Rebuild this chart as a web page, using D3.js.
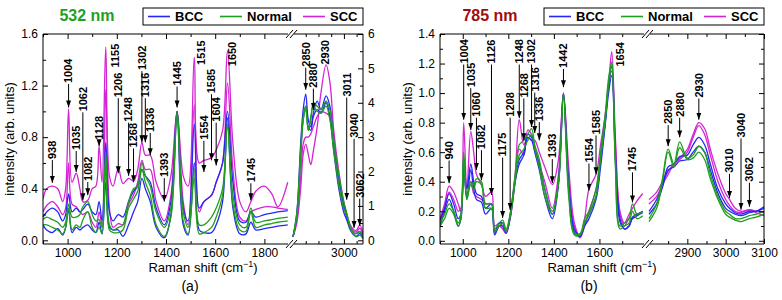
<!DOCTYPE html>
<html>
<head>
<meta charset="utf-8">
<script src="https://cdnjs.cloudflare.com/ajax/libs/d3/7.8.5/d3.min.js"></script>
<style>
  body { margin: 0; background: #fff; }
  text { font-family: "Liberation Sans", Arial, sans-serif; }
</style>
</head>
<body>
<svg width="782" height="300"></svg>
<script>
// ---------- data ----------
var legendNames = ['BCC', 'Normal', 'SCC'];

// panel (a), 532 nm, fingerprint region (left axis)
var waveA = [900, 915, 938, 960, 980, 992, 1004, 1018, 1035, 1050, 1062, 1082, 1100, 1115, 1128, 1140, 1155, 1170, 1185, 1206,
             1225, 1248, 1268, 1285, 1302, 1316, 1336, 1360, 1393, 1420, 1445, 1470, 1490, 1515, 1535, 1554, 1585, 1604, 1630, 1650,
             1672, 1700, 1725, 1745, 1765, 1800, 1830, 1855, 1895];
var sccA1 = [.32, .40, .42, .40, .30, .40, 1.02, .45, .52, .40, .30, .31, .40, .42, .73, .45, 1.50, .50, .42, .56,
             .44, .48, .46, .55, .76, .66, .66, .45, .32, .50, 1.00, .50, .42, 1.42, .60, .62, .64, .70, .85, 1.47,
             .75, .30, .22, .30, .38, .42, .36, .26, .45];
var sccA2 = [.22, .27, .30, .26, .20, .25, .60, .28, .26, .22, .20, .22, .14, .10, .22, .12, 1.17, .25, .10, .13,
             .12, .28, .35, .45, .62, .55, .55, .30, .15, .35, 1.00, .30, .12, 1.05, .22, .30, .35, .45, .60, 1.22,
             .55, .18, .15, .22, .24, .26, .26, .25, .24];
var bccA1 = [.18, .22, .25, .22, .15, .20, .36, .22, .25, .22, .24, .28, .22, .20, .30, .15, .76, .22, .15, .20,
             .18, .30, .38, .42, .55, .50, .45, .25, .12, .30, 1.00, .25, .15, .90, .25, .30, .35, .45, .60, 1.00,
             .45, .15, .14, .22, .18, .20, .21, .22, .23];
var bccA2 = [.12, .08, .06, .09, .04, .10, .24, .06, .10, .08, .10, .12, .08, .06, .14, .05, .45, .10, .08, .08,
             .03, .12, .22, .30, .48, .40, .30, .10, .02, .20, .98, .12, .04, .60, .08, .06, .06, .12, .30, .95,
             .25, .05, .05, .14, .08, .09, .10, .11, .12];
var normA1 = [.16, .18, .16, .14, .10, .14, .28, .18, .18, .20, .26, .30, .20, .15, .16, .10, .68, .12, .08, .10,
              .12, .30, .40, .42, .60, .50, .42, .22, .10, .25, 1.00, .22, .10, .55, .12, .12, .18, .25, .40, .90,
              .35, .12, .10, .25, .14, .15, .16, .17, .18];
var normA2 = [.12, .12, .10, .08, .05, .10, .25, .08, .12, .10, .16, .22, .10, .06, .10, .05, .60, .08, .06, .06,
              .08, .25, .32, .38, .55, .45, .35, .12, .03, .18, .98, .15, .05, .48, .05, .06, .10, .18, .35, .88,
              .28, .08, .07, .22, .10, .12, .13, .14, .15];

// panel (a), high wavenumber region (right axis, 0-6)
var waveAHigh = [2800, 2815, 2830, 2840, 2850, 2860, 2870, 2880, 2895, 2910, 2930, 2945, 2960, 2980, 3000, 3011, 3025, 3040, 3050, 3062, 3075];
var sccAH1  = [0.1, 0.5, 1.5, 2.5, 2.8, 2.5, 2.2, 2.6, 3.3, 4.3, 5.1, 4.6, 3.2, 2.0, 1.1, 0.75, 0.45, 0.3, 0.3, 0.45, 0.2];
var sccAH2  = [0.1, 0.6, 1.8, 2.8, 3.0, 3.0, 3.1, 3.3, 3.6, 3.75, 3.7, 3.6, 2.8, 1.8, 1.0, 0.7, 0.4, 0.25, 0.25, 0.35, 0.15];
var bccAH1  = [0.1, 0.8, 2.8, 3.8, 4.25, 3.5, 3.3, 3.7, 4.05, 3.8, 4.2, 3.9, 2.9, 1.8, 1.0, 0.7, 0.35, 0.2, 0.2, 0.25, 0.1];
var bccAH2  = [0.1, 0.7, 2.5, 3.5, 3.9, 3.3, 3.2, 3.6, 3.8, 3.7, 4.0, 3.6, 2.6, 1.5, 0.8, 0.6, 0.3, 0.15, 0.12, 0.2, 0.05];
var normAH1 = [0.1, 0.8, 2.6, 3.6, 3.9, 3.2, 3.5, 4.0, 3.9, 3.8, 4.05, 3.8, 2.9, 1.9, 1.1, 0.8, 0.4, 0.2, 0.2, 0.25, 0.12];
var normAH2 = [0.1, 0.7, 2.4, 3.5, 3.8, 3.2, 3.6, 3.9, 3.75, 3.7, 3.9, 3.5, 2.6, 1.6, 0.9, 0.75, 0.35, 0.15, 0.1, 0.15, 0.05];

// panel (b), 785 nm, fingerprint region
var waveB = [900, 920, 940, 960, 980, 992, 1004, 1018, 1035, 1048, 1060, 1082, 1100, 1126, 1140, 1160, 1175, 1190, 1208, 1230,
             1248, 1268, 1285, 1302, 1316, 1336, 1360, 1393, 1420, 1442, 1465, 1490, 1515, 1535, 1554, 1585, 1605, 1625, 1640, 1654,
             1670, 1690, 1710, 1730, 1745, 1765, 1790];
var sccB1 = [.15, .25, .37, .33, .25, .20, .80, .35, .74, .60, .45, .38, .30, .33, .10, .12, .10, .06, .15, .45,
             .82, .65, .70, .68, .68, .60, .50, .38, .55, 1.00, .50, .12, .03, .15, .35, .45, .65, .85, 1.05, 1.28,
             .70, .20, .12, .18, .22, .27, .32];
var sccB2 = [.12, .22, .33, .28, .20, .22, .55, .30, .40, .32, .30, .28, .25, .25, .05, .10, .08, .05, .15, .40,
             .62, .58, .75, .72, .62, .52, .40, .22, .45, 1.00, .40, .10, .02, .10, .20, .35, .55, .80, 1.05, 1.15,
             .65, .18, .10, .15, .15, .17, .20];
var bccB1 = [.14, .22, .32, .25, .15, .18, .55, .35, .52, .40, .32, .30, .22, .25, .06, .12, .12, .06, .18, .42,
             .55, .60, .72, .70, .62, .52, .35, .18, .40, 1.00, .40, .08, .04, .12, .18, .30, .55, .80, 1.05, 1.18,
             .60, .15, .08, .10, .16, .18, .20];
var bccB2 = [.10, .20, .28, .20, .10, .15, .50, .28, .48, .35, .28, .26, .18, .22, .04, .10, .10, .05, .16, .40,
             .52, .58, .70, .68, .60, .48, .30, .15, .38, .98, .35, .06, .03, .10, .15, .28, .50, .78, 1.00, 1.12,
             .55, .13, .08, .10, .15, .17, .19];
var normB1 = [.12, .18, .25, .20, .12, .18, .60, .30, .40, .38, .42, .40, .25, .25, .08, .12, .14, .08, .18, .45,
              .65, .68, .72, .76, .65, .55, .35, .20, .40, 1.00, .35, .05, .05, .15, .20, .35, .60, .85, 1.10, 1.21,
              .55, .10, .12, .15, .25, .18, .20];
var normB2 = [.10, .15, .22, .18, .10, .15, .55, .28, .38, .35, .40, .38, .22, .22, .06, .10, .12, .06, .16, .40,
              .58, .62, .68, .72, .62, .50, .30, .18, .38, .98, .30, .04, .04, .12, .18, .30, .55, .80, 1.05, 1.20,
              .50, .08, .10, .12, .20, .15, .17];

// panel (b), high wavenumber region (same axis)
var waveBHigh = [2800, 2820, 2835, 2850, 2865, 2880, 2900, 2915, 2930, 2945, 2960, 2980, 3000, 3010, 3025, 3040, 3062, 3080, 3100];
var sccBH1  = [.28, .33, .40, .47, .52, .56, .62, .72, .80, .76, .62, .45, .32, .28, .22, .20, .21, .19, .17];
var sccBH2  = [.25, .30, .38, .45, .52, .55, .60, .70, .78, .72, .58, .40, .28, .24, .20, .19, .21, .20, .19];
var bccBH1  = [.20, .28, .38, .50, .52, .57, .58, .65, .70, .65, .52, .35, .25, .22, .19, .18, .20, .20, .22];
var bccBH2  = [.18, .25, .36, .48, .50, .54, .55, .60, .64, .60, .48, .32, .22, .20, .18, .17, .19, .20, .23];
var normBH1 = [.15, .25, .42, .62, .52, .67, .56, .58, .64, .60, .45, .30, .20, .18, .15, .15, .17, .18, .20];
var normBH2 = [.13, .22, .40, .60, .50, .63, .55, .56, .60, .55, .42, .28, .18, .16, .14, .13, .15, .16, .18];

// peak labels: [text, drawn at (cm-1), label foot (intensity), arrow tip (intensity or null)]
var peaksA = [
  ['938', 938, 0.63, 0.445], ['1004', 1004, 1.22, 1.03], ['1035', 1035, 0.70, 0.53],
  ['1062', 1062, 1.00, 0.31], ['1082', 1082, 0.46, 0.35], ['1128', 1128, 0.78, 0.73],
  ['1155', 1195, 1.34, null], ['1206', 1206, 1.11, 0.52], ['1248', 1248, 0.92, 0.50],
  ['1268', 1268, 0.72, 0.45], ['1302', 1302, 1.32, 0.76], ['1316', 1316, 1.11, 0.76],
  ['1336', 1336, 0.84, 0.66], ['1393', 1393, 0.49, 0.30], ['1445', 1445, 1.20, 1.03],
  ['1515', 1544, 1.36, null], ['1554', 1554, 0.78, 0.53], ['1585', 1585, 1.14, 0.62],
  ['1604', 1604, 0.92, 0.58], ['1650', 1669, 1.35, null], ['1745', 1745, 0.45, 0.31],
  ['2850', 2850, 5.05, 4.38], ['2880', 2880, 4.44, 3.8], ['2930', 2925, 5.11, null],
  ['3011', 3011, 4.18, 1.18], ['3040', 3040, 2.98, 0.36], ['3062', 3062, 1.24, 0.42]
];
var peaksB = [
  ['940', 940, 0.55, 0.39], ['1004', 1004, 1.20, 0.82], ['1035', 1035, 1.04, 0.75],
  ['1060', 1060, 0.84, 0.48], ['1082', 1082, 0.62, 0.41], ['1126', 1126, 1.20, 0.31],
  ['1175', 1175, 0.57, 0.155], ['1208', 1208, 0.84, 0.21], ['1248', 1248, 1.20, 0.83],
  ['1268', 1268, 0.97, 0.68], ['1302', 1302, 1.20, 0.77], ['1316', 1316, 1.01, 0.73],
  ['1336', 1336, 0.81, 0.68], ['1393', 1393, 0.56, 0.39], ['1442', 1442, 1.17, 1.04],
  ['1554', 1554, 0.53, 0.34], ['1585', 1585, 0.72, 0.45], ['1654', 1690, 1.18, null],
  ['1745', 1745, 0.47, 0.26], ['2850', 2850, 0.79, 0.64], ['2880', 2880, 0.84, 0.70],
  ['2930', 2930, 0.97, 0.82], ['3010', 3010, 0.46, 0.29], ['3040', 3040, 0.70, 0.21],
  ['3062', 3062, 0.40, 0.23]
];

// tick values
var xTicksA = [1000, 1200, 1400, 1600, 1800];
var xMinorA = [900, 1100, 1300, 1500, 1700];
var xTicksAHigh = [3000];
var xMinorAHigh = [2850, 2900, 2950, 3050];
var yTicksA = [0, 0.4, 0.8, 1.2, 1.6];
var yMinorA = [0.2, 0.6, 1.0, 1.4];
var yTicksARight = [0, 1, 2, 3, 4, 5, 6];
var yMinorARight = [0.5, 1.5, 2.5, 3.5, 4.5, 5.5];
var xTicksB = [1000, 1200, 1400, 1600];
var xMinorB = [900, 1100, 1300, 1500, 1700];
var xTicksBHigh = [2900, 3000, 3100];
var xMinorBHigh = [2850, 2950, 3050];
var yTicksB = [0, 0.2, 0.4, 0.6, 0.8, 1.0, 1.2, 1.4];
var yMinorB = [0.1, 0.3, 0.5, 0.7, 0.9, 1.1, 1.3];

var colors = { BCC: '#2626f5', Normal: '#1f9e1f', SCC: '#d424d4' };

// ---------- drawing ----------
var svg = d3.select('svg');

svg.append('defs')
  .append('marker')
  .attr('id', 'arrow')
  .attr('viewBox', '0 -3 7 6')
  .attr('refX', 7)
  .attr('refY', 0)
  .attr('markerWidth', 7)
  .attr('markerHeight', 6)
  .attr('markerUnits', 'userSpaceOnUse')
  .attr('orient', 'auto')
  .append('path')
  .attr('d', 'M0,-2.5L7,0L0,2.5Z')
  .style('fill', 'black');

function drawPanel(p) {
  var g = svg.append('g');

  var xLo = d3.scaleLinear().domain(p.loDomain).range([p.left, p.brk - 2]);
  var xHi = d3.scaleLinear().domain(p.hiDomain).range([p.brk + 2, p.right]);
  var y = d3.scaleLinear().domain(p.yDomain).range([p.zeroY, p.top]);
  var yHi = d3.scaleLinear().domain(p.yHiDomain).range([p.zeroY, p.top]);

  // clip each segment
  var defs = svg.select('defs');
  defs.append('clipPath').attr('id', p.id + 'lo')
    .append('rect')
    .attr('x', p.left).attr('y', p.top)
    .attr('width', p.brk - 1 - p.left).attr('height', p.bottom - p.top);
  defs.append('clipPath').attr('id', p.id + 'hi')
    .append('rect')
    .attr('x', p.brk + 1).attr('y', p.top)
    .attr('width', p.right - p.brk - 1).attr('height', p.bottom - p.top);

  p.series.forEach(function(s) {
    var lineLo = d3.line()
      .x(function(d, i) { return xLo(p.waveLo[i]); })
      .y(function(d) { return y(d); })
      .curve(d3.curveCatmullRom.alpha(0.5));
    var lineHi = d3.line()
      .x(function(d, i) { return xHi(p.waveHi[i]); })
      .y(function(d) { return yHi(d); })
      .curve(d3.curveCatmullRom.alpha(0.5));
    g.append('path')
      .attr('d', lineLo(s.lo))
      .attr('clip-path', 'url(#' + p.id + 'lo)')
      .style('fill', 'none')
      .style('stroke', colors[s.name])
      .style('stroke-width', 1.3);
    g.append('path')
      .attr('d', lineHi(s.hi))
      .attr('clip-path', 'url(#' + p.id + 'hi)')
      .style('fill', 'none')
      .style('stroke', colors[s.name])
      .style('stroke-width', 1.3);
  });

  // axes (ticks point inwards)
  g.append('g').attr('transform', 'translate(0,' + p.bottom + ')')
    .call(d3.axisBottom(xLo).tickValues(p.xTicksLo).tickSize(-5).tickPadding(4).tickFormat(d3.format('d')));
  g.append('g').attr('transform', 'translate(0,' + p.bottom + ')')
    .call(d3.axisBottom(xLo).tickValues(p.xMinorLo).tickSize(-3).tickFormat(''));
  g.append('g').attr('transform', 'translate(0,' + p.bottom + ')')
    .call(d3.axisBottom(xHi).tickValues(p.xTicksHi).tickSize(-5).tickPadding(4).tickFormat(d3.format('d')));
  g.append('g').attr('transform', 'translate(0,' + p.bottom + ')')
    .call(d3.axisBottom(xHi).tickValues(p.xMinorHi).tickSize(-3).tickFormat(''));
  g.append('g').attr('transform', 'translate(0,' + p.top + ')')
    .call(d3.axisTop(xLo).tickValues(p.xTicksLo).tickSize(-5).tickFormat(''));
  g.append('g').attr('transform', 'translate(0,' + p.top + ')')
    .call(d3.axisTop(xLo).tickValues(p.xMinorLo).tickSize(-3).tickFormat(''));
  g.append('g').attr('transform', 'translate(0,' + p.top + ')')
    .call(d3.axisTop(xHi).tickValues(p.xTicksHi).tickSize(-5).tickFormat(''));
  g.append('g').attr('transform', 'translate(0,' + p.top + ')')
    .call(d3.axisTop(xHi).tickValues(p.xMinorHi).tickSize(-3).tickFormat(''));
  g.append('g').attr('transform', 'translate(' + p.left + ',0)')
    .call(d3.axisLeft(y).tickValues(p.yTicks).tickSize(-5).tickPadding(5).tickFormat(d3.format('.1f')));
  g.append('g').attr('transform', 'translate(' + p.left + ',0)')
    .call(d3.axisLeft(y).tickValues(p.yMinor).tickSize(-3).tickFormat(''));
  g.append('g').attr('transform', 'translate(' + p.right + ',0)')
    .call(d3.axisRight(yHi).tickValues(p.yHiTicks).tickSize(-5).tickPadding(5)
      .tickFormat(p.yHiLabels ? d3.format('d') : ''));
  g.append('g').attr('transform', 'translate(' + p.right + ',0)')
    .call(d3.axisRight(yHi).tickValues(p.yHiMinor).tickSize(-3).tickFormat(''));

  g.selectAll('.domain').remove();
  g.selectAll('.tick line').style('stroke', 'black');
  g.selectAll('.tick text')
    .style('font-size', '12px')
    .style('fill', 'black')
    .style('font-family', '"Liberation Sans", Arial, sans-serif');

  // frame with axis break
  var frame = 'M' + p.left + ',' + p.top + 'V' + p.bottom +
              'M' + p.right + ',' + p.top + 'V' + p.bottom +
              'M' + p.left + ',' + p.top + 'H' + (p.brk - 3) +
              'M' + (p.brk + 3) + ',' + p.top + 'H' + p.right +
              'M' + p.left + ',' + p.bottom + 'H' + (p.brk - 3) +
              'M' + (p.brk + 3) + ',' + p.bottom + 'H' + p.right;
  g.append('path').attr('d', frame)
    .style('fill', 'none').style('stroke', 'black').style('stroke-width', 1);
  [p.top, p.bottom].forEach(function(yy) {
    g.append('path')
      .attr('d', 'M' + (p.brk - 5) + ',' + (yy + 4) + 'L' + (p.brk + 2) + ',' + (yy - 4) +
                 'M' + (p.brk - 1) + ',' + (yy + 4) + 'L' + (p.brk + 6) + ',' + (yy - 4))
      .style('stroke', 'black').style('stroke-width', 1);
  });

  // peak labels and arrows
  p.peaks.forEach(function(d) {
    var high = d[1] > 2500;
    var px = high ? xHi(d[1]) : xLo(d[1]);
    var sy = high ? yHi : y;
    var foot = sy(d[2]);
    g.append('text')
      .attr('transform', 'translate(' + px + ',' + foot + ') rotate(-90)')
      .attr('dy', '0.35em')
      .style('font-size', '11px')
      .style('font-weight', 'bold')
      .text(d[0]);
    if (d[3] !== null) {
      g.append('line')
        .attr('x1', px).attr('x2', px)
        .attr('y1', foot + 1).attr('y2', sy(d[3]))
        .attr('marker-end', 'url(#arrow)')
        .style('stroke', 'black')
        .style('stroke-width', 1);
    }
  });

  // legend
  var lg = g.append('g').attr('transform', 'translate(' + p.legendX + ',8)');
  lg.append('rect')
    .attr('width', p.right - p.legendX).attr('height', 17)
    .style('fill', 'white').style('stroke', 'black');
  legendNames.forEach(function(name, i) {
    var off = [5, 77, 160][i];
    lg.append('line')
      .attr('x1', off).attr('x2', off + 22)
      .attr('y1', 8.5).attr('y2', 8.5)
      .style('stroke', colors[name]).style('stroke-width', 1.6);
    lg.append('text')
      .attr('x', off + 27).attr('y', 13)
      .style('font-size', '13px').style('font-weight', 'bold')
      .text(name);
  });

  // titles
  g.append('text')
    .attr('x', p.titleX).attr('y', 21)
    .attr('text-anchor', 'middle')
    .style('font-size', '16px').style('font-weight', 'bold')
    .style('fill', p.titleColor)
    .text(p.title);
  g.append('text')
    .attr('transform', 'translate(' + p.yTitleX + ',' + ((p.top + p.bottom) / 2) + ') rotate(-90)')
    .attr('text-anchor', 'middle')
    .style('font-size', '13px')
    .text('intensity (arb. units)');
  var xt = g.append('text')
    .attr('x', (p.left + p.right) / 2).attr('y', 272)
    .attr('text-anchor', 'middle')
    .style('font-size', '13px');
  xt.append('tspan').text('Raman shift (cm');
  xt.append('tspan').attr('dy', -5).style('font-size', '9px').text('\u22121');
  xt.append('tspan').attr('dy', 5).text(')');
  g.append('text')
    .attr('x', p.captionX).attr('y', 291)
    .attr('text-anchor', 'middle')
    .style('font-size', '14px')
    .text(p.caption);
}

drawPanel({
  id: 'pa', left: 43, brk: 291, right: 363, top: 34, bottom: 244, zeroY: 240.3,
  loDomain: [900, 1900], hiDomain: [2800, 3075],
  yDomain: [0, 1.6], yHiDomain: [0, 6],
  waveLo: waveA, waveHi: waveAHigh,
  series: [
    { name: 'SCC', lo: sccA1, hi: sccAH1 }, { name: 'SCC', lo: sccA2, hi: sccAH2 },
    { name: 'BCC', lo: bccA1, hi: bccAH1 }, { name: 'BCC', lo: bccA2, hi: bccAH2 },
    { name: 'Normal', lo: normA1, hi: normAH1 }, { name: 'Normal', lo: normA2, hi: normAH2 }
  ],
  xTicksLo: xTicksA, xMinorLo: xMinorA, xTicksHi: xTicksAHigh, xMinorHi: xMinorAHigh,
  yTicks: yTicksA, yMinor: yMinorA, yHiTicks: yTicksARight, yHiMinor: yMinorARight, yHiLabels: true,
  peaks: peaksA,
  legendX: 143, title: '532 nm', titleColor: '#1fa01f', titleX: 87,
  yTitleX: 14, captionX: 190, caption: '(a)'
});

drawPanel({
  id: 'pb', left: 440, brk: 647, right: 764, top: 34, bottom: 244, zeroY: 240.8,
  loDomain: [900, 1800], hiDomain: [2800, 3100],
  yDomain: [0, 1.4], yHiDomain: [0, 1.4],
  waveLo: waveB, waveHi: waveBHigh,
  series: [
    { name: 'SCC', lo: sccB1, hi: sccBH1 }, { name: 'SCC', lo: sccB2, hi: sccBH2 },
    { name: 'BCC', lo: bccB1, hi: bccBH1 }, { name: 'BCC', lo: bccB2, hi: bccBH2 },
    { name: 'Normal', lo: normB1, hi: normBH1 }, { name: 'Normal', lo: normB2, hi: normBH2 }
  ],
  xTicksLo: xTicksB, xMinorLo: xMinorB, xTicksHi: xTicksBHigh, xMinorHi: xMinorBHigh,
  yTicks: yTicksB, yMinor: yMinorB, yHiTicks: yTicksB, yHiMinor: yMinorB, yHiLabels: false,
  peaks: peaksB,
  legendX: 544, title: '785 nm', titleColor: '#a00d0d', titleX: 490,
  yTitleX: 412, captionX: 589, caption: '(b)'
});
</script>
</body>
</html>
